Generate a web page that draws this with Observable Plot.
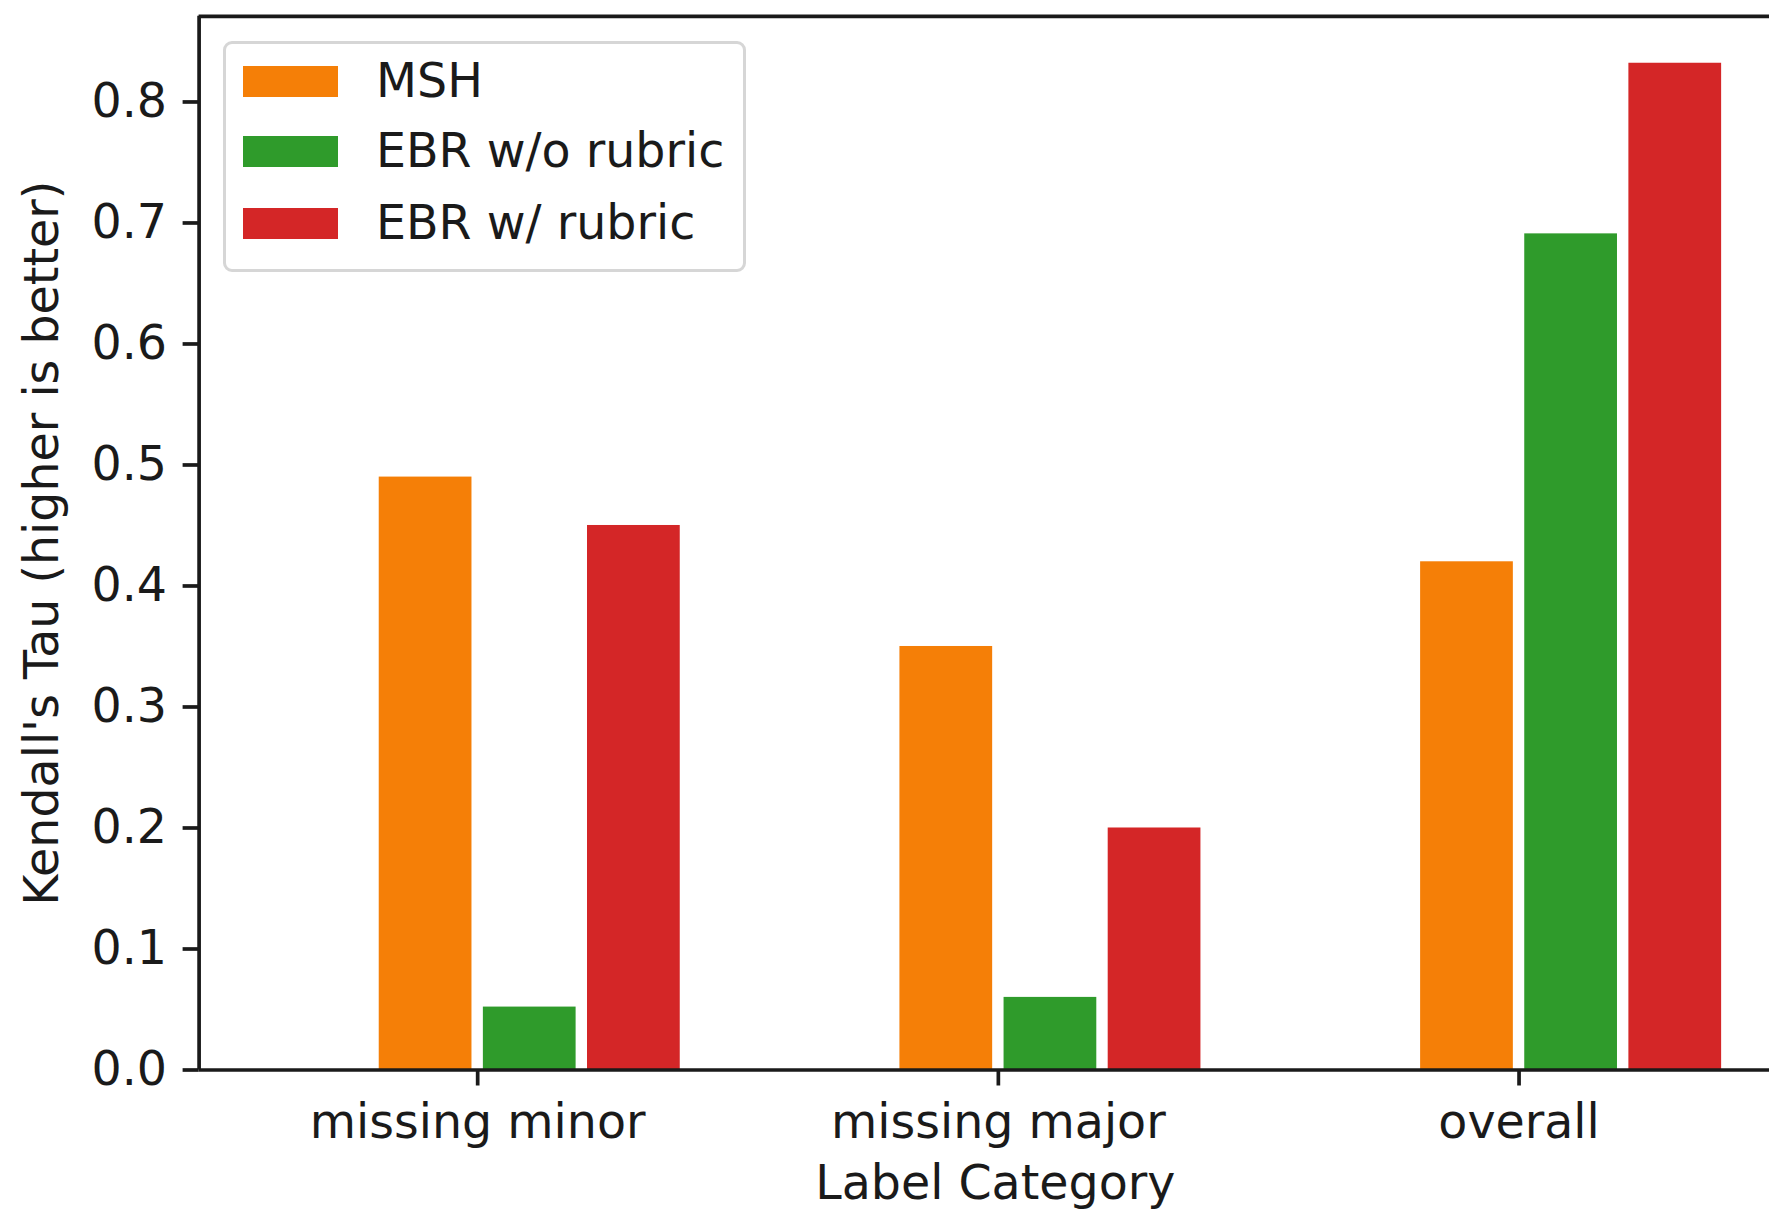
<!DOCTYPE html>
<html>
<head>
<meta charset="utf-8">
<script src="https://cdn.jsdelivr.net/npm/d3@7"></script>
<script src="https://cdn.jsdelivr.net/npm/@observablehq/plot@0.6"></script>
<style>
  html, body { margin: 0; padding: 0; background: white; overflow: hidden; }
  #wrap { position: relative; width: 1769px; height: 1212px; font-family: "DejaVu Sans", sans-serif; }
  #wrap svg { max-width: none; }
  .legend { position: absolute; left: 223px; top: 41px; width: 517px; height: 225px;
            border: 3px solid #d6d6d6; border-radius: 9px; background: rgba(255,255,255,0.8); }
  .sw { position: absolute; left: 17px; width: 95px; height: 31px; }
  .lbl { position: absolute; left: 150px; font-size: 47.5px; color: #1a1a1a; white-space: nowrap; line-height: 48px; }
</style>
</head>
<body>
<div id="wrap"></div>
<script>
const categories = ["missing minor", "missing major", "overall"];
const series = ["MSH", "EBR w/o rubric", "EBR w/ rubric"];
const colors = ["#f57f07", "#2f9b2b", "#d42627"];
const msh = [0.49, 0.35, 0.42];
const ebrNoRubric = [0.052, 0.06, 0.691];
const ebrRubric = [0.45, 0.20, 0.832];
const yTicks = [0, 0.1, 0.2, 0.3, 0.4, 0.5, 0.6, 0.7, 0.8];
const yLabel = "Kendall's Tau (higher is better)";
const xLabel = "Label Category";

const seriesValues = [msh, ebrNoRubric, ebrRubric];
const data = [];
categories.forEach((c, ci) => {
  series.forEach((s, si) => {
    data.push({category: c, ci, series: s, si, value: seriesValues[si][ci]});
  });
});

const barW = 0.2;
const offset = si => -0.1 + barW * si;
const xDomain = [-0.535, 2.481];
const yDomain = [0, 0.8708];
const ink = "#1a1a1a";
const lw = 3.7;
const fs = 47.5;

const chart = Plot.plot({
  width: 1769,
  height: 1212,
  marginLeft: 198.6,
  marginRight: 0,
  marginTop: 15.8,
  marginBottom: 142.5,
  style: {fontFamily: "DejaVu Sans", fontSize: fs + "px", color: ink, background: "white", overflow: "visible"},
  x: {domain: xDomain, axis: null},
  y: {domain: yDomain, axis: null},
  color: {domain: series, range: colors},
  marks: [
    Plot.rectY(data, {
      x1: d => d.ci + offset(d.si) - barW / 2,
      x2: d => d.ci + offset(d.si) + barW / 2,
      y1: 0,
      y2: "value",
      fill: "series",
      insetLeft: 5.7,
      insetRight: 5.7
    }),
    Plot.axisY({
      ticks: yTicks,
      tickFormat: d3.format(".1f"),
      tickSize: 16,
      tickPadding: 16,
      strokeWidth: lw,
      fontSize: fs,
      stroke: ink,
      fill: ink,
      label: null
    }),
    Plot.axisX({
      ticks: categories.map((c, i) => i),
      tickFormat: i => categories[i],
      tickSize: 16,
      tickPadding: 18,
      strokeWidth: lw,
      fontSize: fs,
      stroke: ink,
      fill: ink,
      label: null
    }),
    Plot.ruleY([0], {stroke: ink, strokeWidth: lw}),
    Plot.ruleY([yDomain[1]], {stroke: ink, strokeWidth: lw}),
    Plot.ruleX([xDomain[0]], {y1: yDomain[0], y2: yDomain[1], stroke: ink, strokeWidth: lw}),
    Plot.text([yLabel], {frameAnchor: "left", dx: -156.6, rotate: -90, text: d => d, fontSize: fs, fill: ink, textAnchor: "middle", lineAnchor: "middle"}),
    Plot.text([xLabel], {frameAnchor: "bottom", dx: 11, dy: 114, text: d => d, fontSize: fs, fill: ink, textAnchor: "middle", lineAnchor: "middle"})
  ]
});

const wrap = document.getElementById("wrap");
wrap.appendChild(chart);

const legend = document.createElement("div");
legend.className = "legend";
const centers = [37, 107, 179];
series.forEach((s, i) => {
  const sw = document.createElement("div");
  sw.className = "sw";
  sw.style.background = colors[i];
  sw.style.top = (centers[i] - 15.5) + "px";
  legend.appendChild(sw);
  const lbl = document.createElement("div");
  lbl.className = "lbl";
  lbl.textContent = s;
  lbl.style.top = (centers[i] - 24) + "px";
  legend.appendChild(lbl);
});
wrap.appendChild(legend);
</script>
</body>
</html>
